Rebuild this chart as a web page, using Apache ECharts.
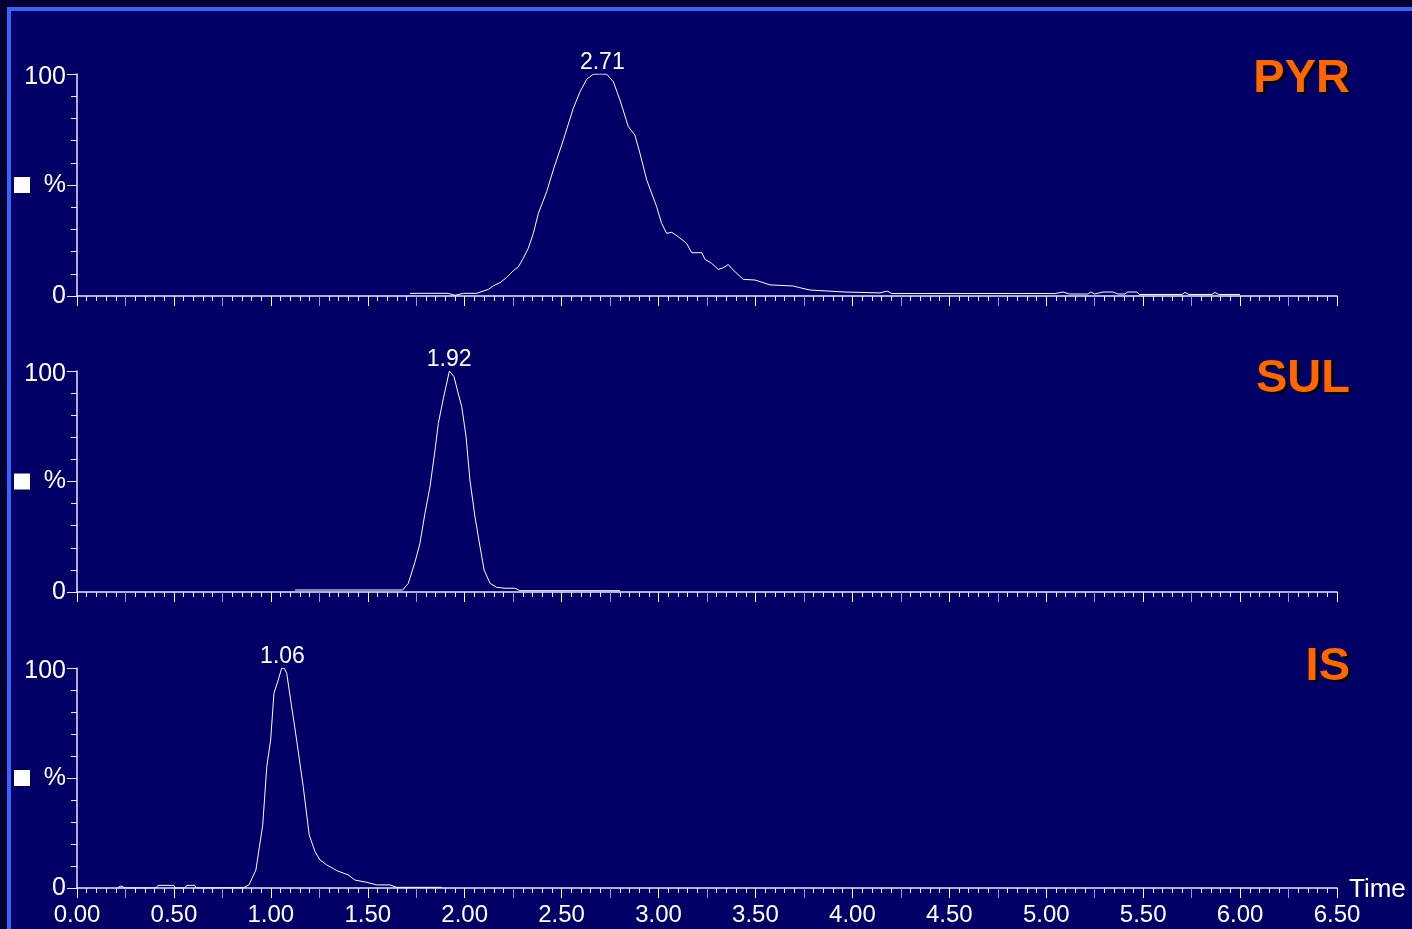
<!DOCTYPE html>
<html><head><meta charset="utf-8">
<script src="https://cdn.jsdelivr.net/npm/echarts@6/dist/echarts.min.js"></script>
<style>html,body{margin:0;padding:0;background:#000033;overflow:hidden}#c{width:1412px;height:929px;}</style>
</head><body><div id="c"></div><script>
// ---- data ----
const compounds = ['PYR', 'SUL', 'IS'];
const peakTimes = [2.71, 1.92, 1.06];
const peakLabels = ['2.71', '1.92', '1.06'];

const pyrTime = [1.718,1.915,1.95,1.993,2.062,2.122,2.148,2.182,2.217,2.251,2.277,2.302,2.328,2.354,2.380,2.423,2.457,2.509,2.560,2.595,2.629,2.663,2.698,2.733,2.767,2.801,2.844,2.878,2.904,2.939,2.990,3.016,3.042,3.068,3.102,3.145,3.171,3.223,3.240,3.274,3.308,3.334,3.360,3.377,3.437,3.498,3.575,3.695,3.721,3.781,3.962,4.142,4.18,4.204,5.045,5.086,5.12,5.215,5.23,5.25,5.293,5.344,5.37,5.406,5.42,5.468,5.48,5.70,5.716,5.735,5.855,5.87,5.89,6.0];
const pyrPct = [1.2,1.2,0.3,1.2,1.2,3.0,4.6,6.0,8.4,11.4,13.2,16.9,21.5,28.2,37.2,47.0,56.8,70.3,84.5,92.0,97.6,99.9,100,99.9,96.5,88.3,76.3,72.5,64.3,52.3,40.3,32.7,28.2,28.7,26.7,23.7,19.5,19.5,16.5,14.7,12.0,12.7,14.2,12.4,7.5,7.2,5.0,4.5,3.9,2.7,1.8,1.4,2.2,1.1,1.1,1.8,0.9,0.9,1.8,0.9,1.8,1.8,0.9,0.9,1.8,1.8,0.7,0.7,1.6,0.7,0.7,1.6,0.7,0.7];

const sulTime = [1.125,1.680,1.709,1.744,1.769,1.795,1.821,1.847,1.864,1.890,1.921,1.945,1.962,1.985,2.007,2.027,2.053,2.079,2.100,2.131,2.165,2.208,2.259,2.285,2.801];
const sulPct = [0.9,0.9,3.9,13.7,22.0,35.6,47.6,64.3,76.3,87.6,100,97.4,91.4,83.8,70.3,50.7,34.1,20.5,10.0,3.9,2.1,1.7,1.7,0.6,0.6];

const isTime = [0.21,0.222,0.227,0.233,0.245,0.408,0.418,0.50,0.506,0.557,0.565,0.608,0.614,0.858,0.887,0.923,0.958,0.979,0.999,1.016,1.038,1.056,1.069,1.082,1.102,1.133,1.167,1.198,1.228,1.254,1.288,1.340,1.400,1.434,1.494,1.546,1.615,1.649,1.881];
const isPct = [0,0.8,1.2,0.8,0,0,1.2,1.2,0,0,1.2,1.2,0,0.1,1.4,8.2,28.6,55.1,67.3,88.5,94.5,100,99.9,97.6,85.5,67.3,46.1,24.1,16.5,12.7,10.5,7.9,5.9,3.6,2.6,1.4,1.4,0.3,0.3];

const yTickValues = [0, 50, 100];
const yTickLabels = ['0', '%', '100'];
const xAxisName = 'Time';

// ---- chart ----
const times = [pyrTime, sulTime, isTime];
const pcts = [pyrPct, sulPct, isPct];
const FONT = '"Liberation Sans", Arial, Helvetica, sans-serif';
const AXIS = '#e8e8f6';
const GRAY = '#9a9acb';
const panels = [{top:74,height:222},{top:371,height:221},{top:668,height:220}];

const grid = [], xAxis = [], yAxis = [], series = [], graphic = [];

graphic.push({type:'rect', z:-10, silent:true, shape:{x:7,y:7,width:1420,height:940}, style:{fill:'#3366ff'}});
graphic.push({type:'rect', z:-9, silent:true, shape:{x:11,y:11,width:1420,height:940}, style:{fill:'#000066'}});

panels.forEach((p, i) => {
  grid.push({left:77, right:75, top:p.top, height:p.height, outerBoundsMode:'none', containLabel:false});
  xAxis.push({
    gridIndex:i, type:'value', min:0, max:6.5, interval:0.25, position:'bottom',
    axisLine:{show:true, onZero:false, lineStyle:{color:AXIS, width:1.5}},
    axisTick:{show:true, length:10, lineStyle:{color:GRAY, width:1}},
    minorTick:{show:true, splitNumber:5, length:5, lineStyle:{color:AXIS, width:1}},
    axisLabel:{show:false}, splitLine:{show:false}, minorSplitLine:{show:false}
  });
  xAxis.push({
    gridIndex:i, type:'value', min:0, max:6.5, interval:0.5, position:'bottom',
    axisLine:{show:false},
    axisTick:{show:true, length:10, lineStyle:{color:'#ffffff', width:1}},
    axisLabel:{show:i===2, formatter:v=>v.toFixed(2), fontSize:24, color:'#ffffff', fontFamily:FONT, margin:15, showMinLabel:true, showMaxLabel:true, hideOverlap:false},
    splitLine:{show:false}
  });
  yAxis.push({
    gridIndex:i, type:'value', min:0, max:100, interval:50,
    axisLine:{show:true, onZero:false, lineStyle:{color:AXIS, width:1.5}},
    axisTick:{show:true, length:10, lineStyle:{color:AXIS, width:1}},
    minorTick:{show:true, splitNumber:5, length:6, lineStyle:{color:AXIS, width:1}},
    axisLabel:{
      formatter:v=>{ const s = yTickLabels[yTickValues.indexOf(v)]; return v === 100 ? '{t|' + s + '}' : s; },
      rich:{t:{fontSize:25, color:'#ffffff', fontFamily:FONT, padding:[7,0,0,0]}},
      fontSize:25, color:'#ffffff', fontFamily:FONT, margin:11, showMinLabel:true, showMaxLabel:true
    },
    splitLine:{show:false}
  });
  series.push({
    type:'line', xAxisIndex:2*i, yAxisIndex:i, showSymbol:false, symbol:'none', animation:false,
    lineStyle:{color:'#ffffff', width:1}, silent:true,
    data: times[i].map((t, k) => [t, pcts[i][k]]),
    markPoint:{
      symbol:'rect', symbolSize:1, itemStyle:{color:'rgba(0,0,0,0)'}, animation:false, silent:true,
      label:{show:true, position:'top', distance:2, offset:[0,3], formatter:peakLabels[i], color:'#ffffff', fontSize:23, fontFamily:FONT},
      data:[{coord:[peakTimes[i], 100]}]
    }
  });
  const midY = p.top + p.height / 2;
  graphic.push({type:'rect', silent:true, shape:{x:14, y:midY-8, width:16, height:16}, style:{fill:'#ffffff'}});
});

const nameY = [78.8, 379, 667];
compounds.forEach((c, i) => {
  graphic.push({type:'text', silent:true, z:5, style:{text:c, x:1352.5, y:nameY[i]+2.5, textAlign:'right', textVerticalAlign:'middle', align:'right', verticalAlign:'middle', font:'bold 47px ' + FONT, fill:'#000000'}});
  graphic.push({type:'text', silent:true, z:6, style:{text:c, x:1350, y:nameY[i], textAlign:'right', textVerticalAlign:'middle', align:'right', verticalAlign:'middle', font:'bold 47px ' + FONT, fill:'#ff6600'}});
});
graphic.push({type:'text', silent:true, style:{text:xAxisName, x:1349, y:889.5, textAlign:'left', textVerticalAlign:'middle', align:'left', verticalAlign:'middle', font:'26px ' + FONT, fill:'#ffffff'}});

const chart = echarts.init(document.getElementById('c'), null, {renderer:'canvas'});
chart.setOption({backgroundColor:'#000033', animation:false, grid, xAxis, yAxis, series, graphic});
</script></body></html>
